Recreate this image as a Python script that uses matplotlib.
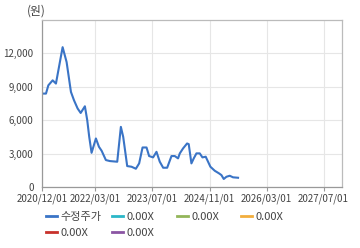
import matplotlib
matplotlib.use("Agg")
import matplotlib.pyplot as plt
import matplotlib.dates as mdates
import numpy as np
import pandas as pd

plt.rcParams['font.family'] = ['Noto Sans CJK KR', 'DejaVu Sans']

# 수정주가
dates = ["2020-12-01", "2021-01-04", "2021-01-24", "2021-03-02", "2021-03-30",
         "2021-05-26", "2021-06-29", "2021-08-05", "2021-08-31", "2021-10-01",
         "2021-10-27", "2021-12-02", "2021-12-22", "2022-01-08", "2022-01-28",
         "2022-03-06", "2022-04-01", "2022-04-24", "2022-05-30", "2022-07-03",
         "2022-09-04", "2022-10-05", "2022-10-25", "2022-11-28", "2023-01-04",
         "2023-02-10", "2023-03-10", "2023-04-08", "2023-05-12", "2023-06-03",
         "2023-07-07", "2023-08-05", "2023-09-02", "2023-10-01", "2023-11-04",
         "2023-12-11", "2024-01-08", "2024-02-05", "2024-02-20", "2024-03-19",
         "2024-04-22", "2024-05-06", "2024-05-29", "2024-06-18", "2024-07-11",
         "2024-08-08", "2024-08-31", "2024-09-28", "2024-10-18", "2024-11-07",
         "2024-12-14", "2025-01-20", "2025-02-09", "2025-03-01", "2025-03-24",
         "2025-04-21", "2025-05-19", "2025-07-01"]
prices = [8390, 8390, 9130, 9580, 9290,
          12560, 11220, 8540, 7790, 7050,
          6650, 7250, 6000, 4500, 3070,
          4360, 3610, 3250, 2420, 2330,
          2270, 5400, 4500, 1880, 1820,
          1640, 2120, 3550, 3550, 2780,
          2660, 3160, 2270, 1730, 1730,
          2780, 2780, 2570, 3020, 3470,
          3910, 3850, 2120, 2570, 3020,
          3020, 2660, 2720, 2270, 1820,
          1460, 1220, 1070, 720, 920,
          1010, 870, 830]

legend_labels = ["수정주가", "0.00X", "0.00X", "0.00X", "0.00X", "0.00X"]
legend_colors = ["#3a74c6", "#2bb7c8", "#93b55a", "#f2ae3d", "#c8312b", "#8b55a3"]

xticks = ["2020-12-01", "2022-03-01", "2023-07-01", "2024-11-01", "2026-03-01", "2027-07-01"]
yticks = [0, 3000, 6000, 9000, 12000]

x = pd.to_datetime(dates)

fig = plt.figure(figsize=(3.6, 2.48), dpi=100)
ax = fig.add_axes([42/360, 1-187/248, 300/360, 167/248])

ax.plot(x, prices, color=legend_colors[0], lw=1.5)

ax.set_xlim(pd.Timestamp("2020-12-01"), pd.Timestamp("2027-12-05"))
ax.set_ylim(0, 15000)
ax.set_xticks(pd.to_datetime(xticks))
ax.xaxis.set_major_formatter(mdates.DateFormatter("%Y/%m/%d"))
ax.set_yticks(yticks)
ax.set_yticklabels([f"{v:,}" for v in yticks])

ax.grid(True, color="#e6e6e6", lw=0.8)
ax.set_axisbelow(True)
for s in ["top", "right"]:
    ax.spines[s].set_color("#bbbbbb")
for s in ["left", "bottom"]:
    ax.spines[s].set_color("#999999")
for s in ax.spines.values():
    s.set_linewidth(0.9)

ax.tick_params(axis="x", length=3, color="#999999", labelsize=7, labelcolor="#444444", pad=2)
ax.tick_params(axis="y", length=0, labelsize=7, labelcolor="#444444", pad=6)

fig.text(27/360, 1-11/248, "(원)", fontsize=8.5, color="#444444", va="center", ha="left")

# legend: 4 fixed-width columns, 2 rows
handles = [plt.Line2D([], [], color=c, lw=2) for c in legend_colors]
col_x = [46, 112, 177, 241]
for c in range(4):
    idx = [i for i in range(len(legend_labels)) if i % 4 == c]
    fig.legend([handles[i] for i in idx], [legend_labels[i] for i in idx],
               loc="upper left", bbox_to_anchor=(col_x[c]/360, 1-212/248),
               frameon=False, fontsize=8, handlelength=1.0, handletextpad=0.3,
               labelspacing=0.5, borderaxespad=0, borderpad=0,
               labelcolor="#444444")

fig.savefig("out.png", dpi=100, facecolor="white")
